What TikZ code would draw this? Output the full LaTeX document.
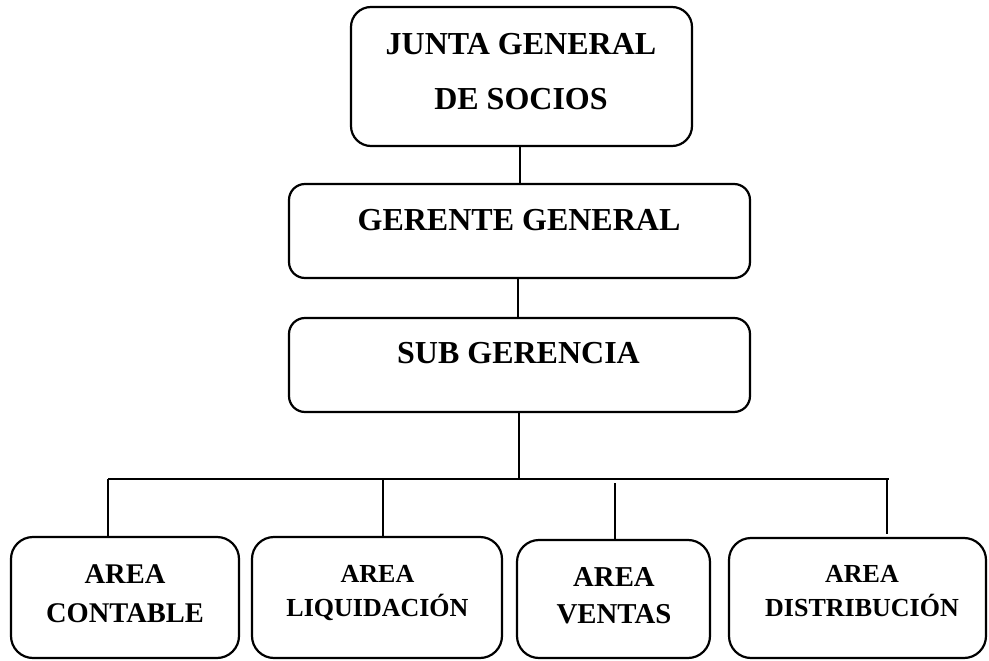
\documentclass[tikz,border=0pt]{standalone}
\usepackage{fontspec}
\setmainfont{Liberation Serif}
\tikzset{
  box/.style = {
    draw,
    line width=2.2pt,
    rounded corners=16pt,
    inner sep=0pt
  },
  area/.style = {
    box,
    rounded corners=22pt
  },
  caption/.style args = {#1/#2}{
    anchor=base,
    inner sep=0pt,
    align=center,
    font=\bfseries\fontsize{#1}{#2}\selectfont
  },
  link/.style = {
    line width=2pt
  },
}
\begin{document}
\begin{tikzpicture}[x=1pt,y=-1pt]
  \useasboundingbox (0,0) rectangle (989,661);

  % boxes
  \node [box,rounded corners=20pt,minimum width=341pt,minimum height=139pt] (junta) at (521.5,76.5) {};
  \node [box,minimum width=461pt,minimum height=94pt] (gerente) at (519.5,231) {};
  \node [box,minimum width=461pt,minimum height=94pt] (sub) at (519.5,365) {};
  \node [area,minimum width=228pt,minimum height=121pt] (contable) at (125,597.5) {};
  \node [area,minimum width=250pt,minimum height=121pt] (liquidacion) at (377,597.5) {};
  \node [area,minimum width=193pt,minimum height=118pt] (ventas) at (613.5,599) {};
  \node [area,minimum width=257pt,minimum height=120pt] (distribucion) at (857.5,598) {};

  % texts (base = last line)
  \node [caption=32/55] (junta-text) at (521,110) {JUNTA GENERAL\\DE SOCIOS};
  \node [caption=32/38] (gerente-text) at (519,230) {GERENTE GENERAL};
  \node [caption=32/38] (sub-text) at (518.5,363) {SUB GERENCIA};
  \node [caption=28.5/39] (contable-text) at (125,622) {AREA\\CONTABLE};
  \node [caption=26/34] (liquidacion-text) at (377.5,616) {AREA\\LIQUIDACIÓN};
  \node [caption=28.8/37] (ventas-text) at (614,623) {AREA\\VENTAS};
  \node [caption=26/34] (distribucion-text) at (862,616) {AREA\\DISTRIBUCIÓN};

  % connectors
  \draw [link] (gerente.north |- junta.south) -- (gerente.north);
  \draw [link] (518,0 |- gerente.south) -- (518,0 |- sub.north);

  \coordinate (bus-left) at (108,479);
  \coordinate (bus-right) at (889,479);
  \draw [link] (sub.south -| 519,0) -- (519,479) coordinate (bus-mid);
  \draw [link] (bus-left) -- (bus-right);

  \draw [link] (bus-left) -- (bus-left |- contable.north);
  \draw [link] (383,479) coordinate (drop-liq) -- (drop-liq |- liquidacion.north);
  \draw [link] (615,483) coordinate (drop-ven) -- (drop-ven |- ventas.north);
  \draw [link,shorten >=3pt] (887,479) coordinate (drop-dis) -- (drop-dis |- distribucion.north);
\end{tikzpicture}
\end{document}
